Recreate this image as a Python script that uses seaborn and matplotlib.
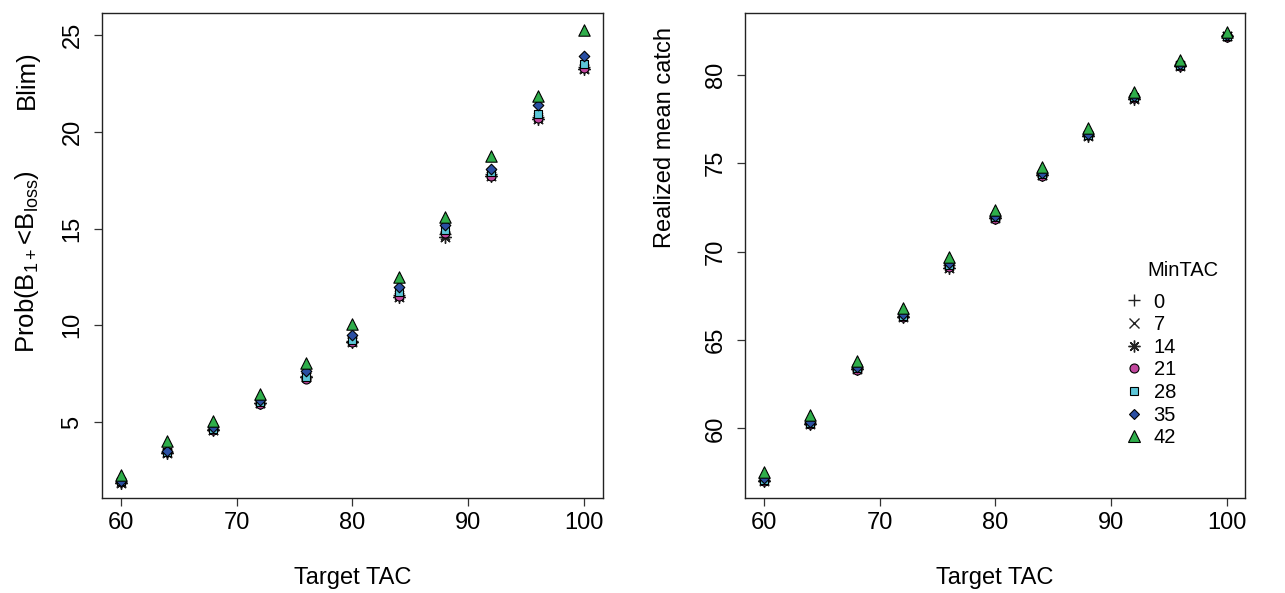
import matplotlib
matplotlib.use("Agg")
import matplotlib.pyplot as plt
import numpy as np
import pandas as pd
import seaborn as sns
from matplotlib.lines import Line2D

# ---------------- data ----------------
target_tac = [60, 64, 68, 72, 76, 80, 84, 88, 92, 96, 100]
min_tac = [0, 7, 14, 21, 28, 35, 42]

prob_0 = [1.90, 3.45, 4.62, 6.00, 7.40, 9.20, 11.55, 14.70, 17.80, 20.75, 23.35]
prob_7 = [1.90, 3.45, 4.60, 6.00, 7.35, 9.20, 11.55, 14.65, 17.80, 20.75, 23.30]
prob_14 = [1.85, 3.42, 4.58, 5.98, 7.30, 9.15, 11.45, 14.55, 17.72, 20.65, 23.25]
prob_21 = [1.88, 3.45, 4.60, 5.92, 7.20, 9.12, 11.50, 14.75, 17.70, 20.70, 23.30]
prob_28 = [1.95, 3.45, 4.65, 6.02, 7.34, 9.22, 11.70, 14.90, 17.90, 20.90, 23.50]
prob_35 = [1.97, 3.50, 4.72, 6.12, 7.65, 9.50, 12.00, 15.17, 18.10, 21.37, 23.90]
prob_42 = [2.28, 4.00, 5.07, 6.45, 8.03, 10.06, 12.50, 15.60, 18.75, 21.85, 25.26]

catch_0 = [57.10, 60.30, 63.42, 66.37, 69.22, 71.95, 74.38, 76.62, 78.72, 80.57, 82.22]
catch_7 = [57.08, 60.28, 63.40, 66.35, 69.20, 71.93, 74.36, 76.60, 78.70, 80.55, 82.20]
catch_14 = [57.05, 60.25, 63.38, 66.32, 69.10, 71.90, 74.33, 76.55, 78.65, 80.52, 82.18]
catch_21 = [57.00, 60.22, 63.33, 66.30, 69.15, 71.85, 74.30, 76.58, 78.68, 80.50, 82.15]
catch_28 = [57.10, 60.30, 63.42, 66.38, 69.25, 71.95, 74.38, 76.62, 78.72, 80.55, 82.20]
catch_35 = [57.20, 60.38, 63.48, 66.45, 69.33, 72.02, 74.45, 76.68, 78.78, 80.60, 82.25]
catch_42 = [57.55, 60.75, 63.83, 66.79, 69.68, 72.35, 74.80, 76.98, 79.05, 80.85, 82.45]

prob_series = [prob_0, prob_7, prob_14, prob_21, prob_28, prob_35, prob_42]
catch_series = [catch_0, catch_7, catch_14, catch_21, catch_28, catch_35, catch_42]

rows = []
for m, pv, cv in zip(min_tac, prob_series, catch_series):
    for t, p, c in zip(target_tac, pv, cv):
        rows.append({"TargetTAC": t, "MinTAC": m, "Prob": p, "Catch": c})
df = pd.DataFrame(rows)

# ---------------- style ----------------
sns.set_theme(style="ticks")
plt.rcParams["font.family"] = ["Liberation Sans", "DejaVu Sans"]
plt.rcParams["mathtext.default"] = "regular"
plt.rcParams["text.color"] = "black"
plt.rcParams["axes.labelcolor"] = "black"

markers = {0: "+", 7: "x", 14: (8, 2, 0), 21: "o", 28: "s", 35: "D", 42: "^"}
fills = {0: "#222222", 7: "#222222", 14: "#222222", 21: "#C2479E",
         28: "#5CC6D8", 35: "#2A4FA3", 42: "#2FAE4B"}
sizes = {0: 8.5, 7: 6.5, 14: 8.5, 21: 6.5, 28: 5.8, 35: 5.4, 42: 8.2}

W, H = 1285, 593
fig = plt.figure(figsize=(W / 100, H / 100), dpi=100)
ax1 = fig.add_axes([101.7 / W, (H - 498) / H, 501 / W, 485 / H])
ax2 = fig.add_axes([745 / W, (H - 498) / H, 500 / W, 485 / H])


def draw(ax, ycol):
    for m in min_tac:
        sub = df[df["MinTAC"] == m]
        mk = markers[m]
        if m in (0, 7, 14):
            sns.scatterplot(data=sub, x="TargetTAC", y=ycol, marker=mk,
                            color=fills[m], s=sizes[m] ** 2, linewidth=1.0,
                            ax=ax, legend=False, zorder=3)
        else:
            sns.scatterplot(data=sub, x="TargetTAC", y=ycol, marker=mk,
                            color=fills[m], edgecolor="black",
                            s=sizes[m] ** 2, linewidth=0.8,
                            ax=ax, legend=False, zorder=3)


draw(ax1, "Prob")
draw(ax2, "Catch")

ax1.set_ylim(1.07, 26.14)
ax1.set_yticks([5, 10, 15, 20, 25])
ax2.set_ylim(56.06, 83.5)
ax2.set_yticks([60, 65, 70, 75, 80])

for ax in (ax1, ax2):
    ax.set_xlim(58.35, 101.6)
    ax.set_xticks([60, 70, 80, 90, 100])
    for s in ax.spines.values():
        s.set_visible(True)
        s.set_color("#222222")
        s.set_linewidth(1.0)
    ax.tick_params(axis="both", direction="out", length=6, width=0.9,
                   color="#333333", labelsize=17, labelcolor="black",
                   bottom=True, left=True, top=False, right=False)
    ax.tick_params(axis="x", pad=4)
    ax.tick_params(axis="y", pad=15)
    for lab in ax.get_yticklabels():
        lab.set_rotation(90)
        lab.set_va("center")
        lab.set_ha("center")
    ax.set_xlabel("Target TAC", fontsize=17, va="center", color="black")
    ax.xaxis.set_label_coords(0.5, (498 - 578) / 485)

ax1.set_ylabel("Prob(B$_{1+}$<B$_{loss}$)", fontsize=18.5, va="center",
               color="black")
ax1.yaxis.set_label_coords((27 - 101.7) / 501, (498 - 262) / 485)
fig.text(27 / W, 1 - 80 / H, "Blim)", rotation=90, ha="center", va="center",
         fontsize=18.5, color="black")

ax2.set_ylabel("Realized mean catch", fontsize=17, va="center", color="black")
ax2.yaxis.set_label_coords((665 - 745) / 500, (498 - 137) / 485)

# legend
handles = []
for m in min_tac:
    if m in (0, 7, 14):
        h = Line2D([], [], linestyle="none", marker=markers[m], color=fills[m],
                   markersize=sizes[m], markeredgewidth=1.0)
    else:
        h = Line2D([], [], linestyle="none", marker=markers[m],
                   markerfacecolor=fills[m], markeredgecolor="black",
                   markersize=sizes[m], markeredgewidth=0.8)
    handles.append(h)
leg = ax2.legend(handles, [str(m) for m in min_tac], frameon=False,
                 loc="upper left", bbox_to_anchor=(1125.5 / W, 1 - 292.5 / H),
                 bbox_transform=fig.transFigure, fontsize=14.5,
                 handlelength=0.85, handletextpad=0.55, labelspacing=0.18,
                 borderpad=0, borderaxespad=0)
for t in leg.get_texts():
    t.set_color("black")
fig.text(1147 / W, 1 - 270 / H, "MinTAC", ha="left", va="center",
         fontsize=14.5, color="black")

fig.savefig("out.png", dpi=100)
